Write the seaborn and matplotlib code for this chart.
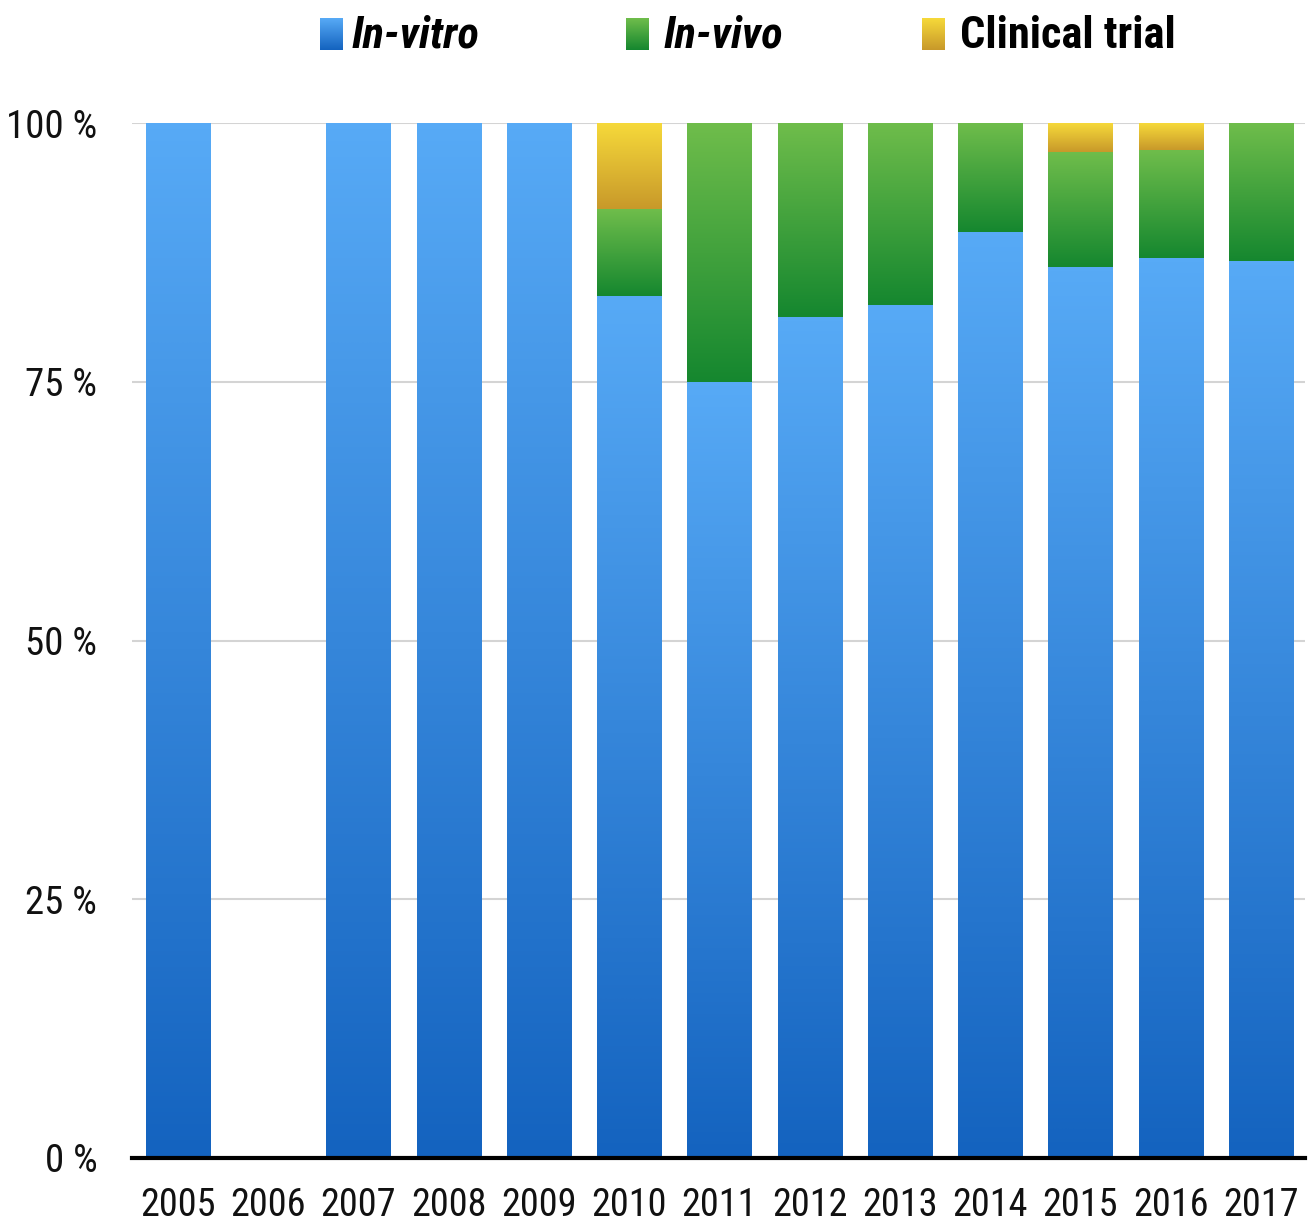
import seaborn as sns
import matplotlib.pyplot as plt
import numpy as np
import pandas as pd
from matplotlib.colors import LinearSegmentedColormap

# Share of studies per year (%)
years = ["2005", "2006", "2007", "2008", "2009", "2010", "2011",
         "2012", "2013", "2014", "2015", "2016", "2017"]
in_vitro = [100, 0, 100, 100, 100, 83.3, 75.0, 81.3, 82.4, 89.5, 86.1, 87.0, 86.7]
in_vivo = [0, 0, 0, 0, 0, 8.4, 25.0, 18.7, 17.6, 10.5, 11.1, 10.4, 13.3]
clinical = [0, 0, 0, 0, 0, 8.3, 0, 0, 0, 0, 2.8, 2.6, 0]
series_names = ["In-vitro", "In-vivo", "Clinical trial"]

# gradient colours (top, bottom) per series
grads = {
    "In-vitro": ("#57aaf6", "#1463bf"),
    "In-vivo": ("#6fbd4b", "#15872f"),
    "Clinical trial": ("#f6d93a", "#c8992a"),
}

df = pd.DataFrame({"year": years, "In-vitro": in_vitro,
                   "In-vivo": in_vivo, "Clinical trial": clinical})

sns.set_style("white")
plt.rcParams["font.family"] = ["Roboto Condensed", "DejaVu Sans"]

fig = plt.figure(figsize=(13.1, 12.23), dpi=100)
ax = fig.add_axes([132 / 1310, 1 - 1158 / 1223, 1173 / 1310, 1035 / 1223])


def grad_fill(ax, patch, top, bottom):
    x, y = patch.get_x(), patch.get_y()
    w, h = patch.get_width(), patch.get_height()
    if h <= 0:
        return
    cmap = LinearSegmentedColormap.from_list("g", [bottom, top])
    g = np.linspace(0, 1, 256).reshape(-1, 1)
    im = ax.imshow(g, extent=[x, x + w, y, y + h], origin="lower",
                   cmap=cmap, aspect="auto", zorder=3, interpolation="bicubic")
    im.set_clip_path(patch)


bottom = np.zeros(len(years))
for name in series_names:
    n0 = len(ax.patches)
    sns.barplot(data=df, x="year", y=name, bottom=bottom, width=0.71,
                color=grads[name][1], linewidth=0, ax=ax, zorder=2)
    for p in ax.patches[n0:]:
        grad_fill(ax, p, *grads[name])
    bottom = bottom + df[name].to_numpy()

ax.set_xlim(-0.51, 12.49)
ax.set_ylim(0, 100)
ax.set_yticks([0, 25, 50, 75, 100])
ax.set_yticklabels([f"{v} %" for v in [0, 25, 50, 75, 100]])
ax.grid(axis="y", color="#d4d4d4", linewidth=1.5, zorder=0)
ax.set_axisbelow(True)
ax.set_xlabel("")
ax.set_ylabel("")
for s in ["top", "right", "left"]:
    ax.spines[s].set_visible(False)
ax.spines["bottom"].set_color("black")
ax.spines["bottom"].set_linewidth(3)
ax.spines["bottom"].set_zorder(5)
ax.tick_params(axis="y", length=0, pad=25, labelsize=28, labelcolor="#111111")
ax.tick_params(axis="x", length=0, pad=21, labelsize=27.5, labelcolor="#111111")

# legend at top with gradient swatches
leg = [("In-vitro", 320, 352, "italic"),
       ("In-vivo", 626, 664, "italic"),
       ("Clinical trial", 922, 960, "normal")]
for name, sx, tx, style in leg:
    sax = fig.add_axes([sx / 1310, 1 - 50 / 1223, 23 / 1310, 32 / 1223])
    cmap = LinearSegmentedColormap.from_list("g", [grads[name][1], grads[name][0]])
    sax.imshow(np.linspace(0, 1, 64).reshape(-1, 1), origin="lower",
               cmap=cmap, aspect="auto")
    sax.axis("off")
    fig.text(tx / 1310, 1 - 36 / 1223, name, fontsize=32, fontweight="bold",
             fontstyle=style, va="center", ha="left", color="black")

fig.savefig("out.png", dpi=100)
